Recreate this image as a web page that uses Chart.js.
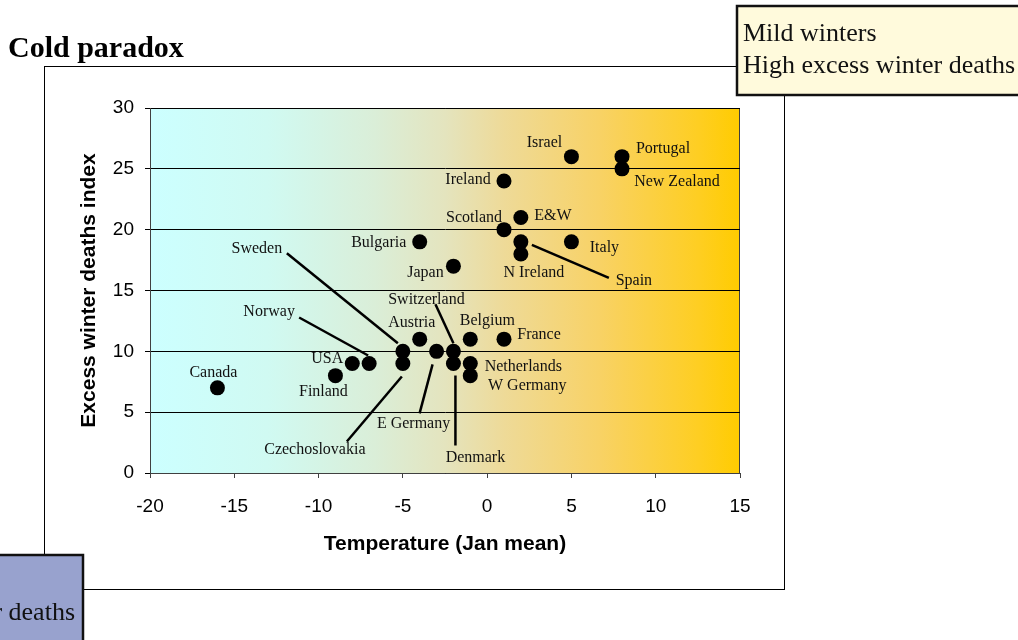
<!DOCTYPE html>
<html>
<head>
<meta charset="utf-8">
<script src="https://cdn.jsdelivr.net/npm/chart.js@4.4.1/dist/chart.umd.min.js"></script>
<style>
  html, body { margin: 0; padding: 0; background: #ffffff; overflow: hidden; }
  #wrap { position: relative; width: 1018px; height: 640px; }
</style>
</head>
<body>
<div id="wrap"><canvas id="chart" width="1018" height="640"></canvas></div>
<script>
// Countries with their mean January temperature (°C) and excess winter deaths index
const countries = ['Canada', 'Finland', 'USA', 'Norway', 'Sweden', 'Czechoslovakia', 'Austria',
  'E Germany', 'Switzerland', 'Denmark', 'Belgium', 'Netherlands', 'W Germany', 'France',
  'Bulgaria', 'Japan', 'Scotland', 'E&W', 'Ireland', 'Israel', 'Portugal', 'New Zealand',
  'Italy', 'N Ireland', 'Spain'];
const janTemp = [-16, -9, -8, -7, -5, -5, -4, -3, -2, -2, -1, -1, -1, 1,
  -4, -2, 1, 2, 1, 5, 8, 8, 5, 2, 2];
const excessIndex = [7, 8, 9, 9, 10, 9, 11, 10, 10, 9, 11, 9, 8, 11,
  19, 17, 20, 21, 24, 26, 26, 25, 19, 18, 19];

// Axis tick values
const xTicks = [-20, -15, -10, -5, 0, 5, 10, 15];
const yTicks = [0, 5, 10, 15, 20, 25, 30];

// Where each country name sits, as a pixel offset from its dot
const labelOffset = {
  'Canada': [-4, -15], 'Finland': [-12, 16], 'USA': [-25, -5], 'Norway': [-100, -52],
  'Sweden': [-146, -103], 'Czechoslovakia': [-88, 86], 'Austria': [-8, -16],
  'E Germany': [-23, 72], 'Switzerland': [-27, -52], 'Denmark': [22, 94],
  'Belgium': [17, -18], 'Netherlands': [53, 3], 'W Germany': [57, 10], 'France': [35, -4],
  'Bulgaria': [-41, 1], 'Japan': [-28, 7], 'Scotland': [-30, -12], 'E&W': [32, -2],
  'Ireland': [-36, -1], 'Israel': [-27, -14], 'Portugal': [41, -8], 'New Zealand': [55, 13],
  'Italy': [33, 6], 'N Ireland': [13, 19], 'Spain': [113, 39]
};
// Leader lines from a name to its dot: [start offset, end offset]
const leaderOffset = {
  'Norway': [[-70, -46], [-1, -8]],
  'Sweden': [[-116, -98], [-5, -8]],
  'Czechoslovakia': [[-56, 78], [-1, 13]],
  'E Germany': [[-17, 62], [-4, 13]],
  'Switzerland': [[-18, -47], [0, -8]],
  'Denmark': [[2, 82], [2, 12]],
  'Spain': [[88, 36], [11, 3]]
};

const SERIF = '"Liberation Serif", "Times New Roman", serif';
const SANS = '"Liberation Sans", Arial, sans-serif';

const decorPlugin = {
  id: 'decor',
  beforeDraw(chart) {
    const ctx = chart.ctx;
    const a = chart.chartArea;
    ctx.save();
    // outer frame of the chart
    ctx.strokeStyle = '#000';
    ctx.lineWidth = 1;
    ctx.strokeRect(44.5, 66.5, 740, 523);
    // cold-to-mild colour wash behind the plot
    const g = ctx.createLinearGradient(a.left, 0, a.right, 0);
    g.addColorStop(0, '#CCFFFF');
    g.addColorStop(0.2, '#D0FAF2');
    g.addColorStop(0.38, '#DAEED8');
    g.addColorStop(0.5, '#E4E4BE');
    g.addColorStop(0.6, '#EEDA98');
    g.addColorStop(0.76, '#F8D266');
    g.addColorStop(0.93, '#FECE22');
    g.addColorStop(1, '#FFCC00');
    ctx.fillStyle = g;
    ctx.fillRect(a.left, a.top, a.right - a.left, a.bottom - a.top);
    ctx.strokeStyle = '#404040';
    ctx.strokeRect(a.left + 0.5, a.top + 0.5, a.right - a.left - 1, a.bottom - a.top);
    // title
    ctx.fillStyle = '#000';
    ctx.font = 'bold 30px ' + SERIF;
    ctx.textAlign = 'left';
    ctx.textBaseline = 'alphabetic';
    ctx.fillText('Cold paradox', 8, 57);
    ctx.restore();
  },
  afterDatasetsDraw(chart) {
    const ctx = chart.ctx;
    const meta = chart.getDatasetMeta(0);
    ctx.save();
    ctx.strokeStyle = '#000';
    ctx.lineWidth = 2.5;
    ctx.lineCap = 'butt';
    countries.forEach((name, i) => {
      const pt = meta.data[i];
      const ld = leaderOffset[name];
      if (ld) {
        ctx.beginPath();
        ctx.moveTo(pt.x + ld[0][0], pt.y + ld[0][1]);
        ctx.lineTo(pt.x + ld[1][0], pt.y + ld[1][1]);
        ctx.stroke();
      }
    });
    ctx.fillStyle = '#111';
    ctx.font = '16px ' + SERIF;
    ctx.textAlign = 'center';
    ctx.textBaseline = 'middle';
    countries.forEach((name, i) => {
      const pt = meta.data[i];
      const off = labelOffset[name];
      ctx.fillText(name, pt.x + off[0], pt.y + off[1]);
    });
    ctx.restore();
  },
  afterDraw(chart) {
    const ctx = chart.ctx;
    ctx.save();
    ctx.lineWidth = 2.5;
    ctx.strokeStyle = '#111';
    ctx.font = '26px ' + SERIF;
    ctx.textAlign = 'left';
    ctx.textBaseline = 'alphabetic';
    // mild-winter note, top right
    ctx.fillStyle = '#FFFADC';
    ctx.fillRect(737, 6, 400, 89);
    ctx.strokeRect(737, 6, 400, 89);
    ctx.fillStyle = '#111';
    ctx.fillText('Mild winters', 743, 41);
    ctx.fillText('High excess winter deaths', 743, 73);
    // cold-winter note, bottom left
    const line2 = 'Low excess winter deaths';
    const w = ctx.measureText(line2).width;
    const boxRight = 83;
    const textLeft = 75 - w;
    ctx.fillStyle = '#98A2CE';
    ctx.fillRect(textLeft - 7, 555, boxRight - textLeft + 7, 100);
    ctx.strokeRect(textLeft - 7, 555, boxRight - textLeft + 7, 100);
    ctx.fillStyle = '#111';
    ctx.fillText('Cold winters', textLeft, 588);
    ctx.fillText(line2, textLeft, 620);
    ctx.restore();
  }
};

new Chart(document.getElementById('chart'), {
  type: 'scatter',
  data: {
    datasets: [{
      data: countries.map((c, i) => ({ x: janTemp[i], y: excessIndex[i] })),
      backgroundColor: '#000',
      borderWidth: 0,
      pointRadius: 7.5,
      pointHoverRadius: 7.5,
      clip: false
    }]
  },
  options: {
    responsive: false,
    animation: false,
    events: [],
    layout: { padding: { left: 77, top: 108, right: 278, bottom: 83 } },
    plugins: { legend: { display: false }, tooltip: { enabled: false } },
    scales: {
      x: {
        type: 'linear',
        min: -20, max: 15,
        afterBuildTicks: (s) => { s.ticks = xTicks.map(v => ({ value: v })); },
        afterFit: (s) => { s.height = 84; },
        grid: { drawOnChartArea: false, drawTicks: true, tickLength: 5, color: '#404040', lineWidth: 1 },
        border: { display: true, color: '#404040', width: 1 },
        ticks: { color: '#000', font: { family: SANS, size: 19 }, padding: 17, maxRotation: 0 },
        title: { display: true, text: 'Temperature (Jan mean)', color: '#000',
          font: { family: SANS, size: 21, weight: 'bold' }, padding: 0 }
      },
      y: {
        type: 'linear',
        min: 0, max: 30,
        afterBuildTicks: (s) => { s.ticks = yTicks.map(v => ({ value: v })); },
        afterFit: (s) => { s.width = 73; },
        grid: { drawOnChartArea: true, drawTicks: true, tickLength: 5, color: '#000', lineWidth: 1 },
        border: { display: true, color: '#404040', width: 1 },
        ticks: { color: '#000', font: { family: SANS, size: 19 }, padding: 11 },
        title: { display: true, text: 'Excess winter deaths index', color: '#000',
          font: { family: SANS, size: 21, weight: 'bold' }, padding: 0 }
      }
    }
  },
  plugins: [decorPlugin]
});
</script>
</body>
</html>
